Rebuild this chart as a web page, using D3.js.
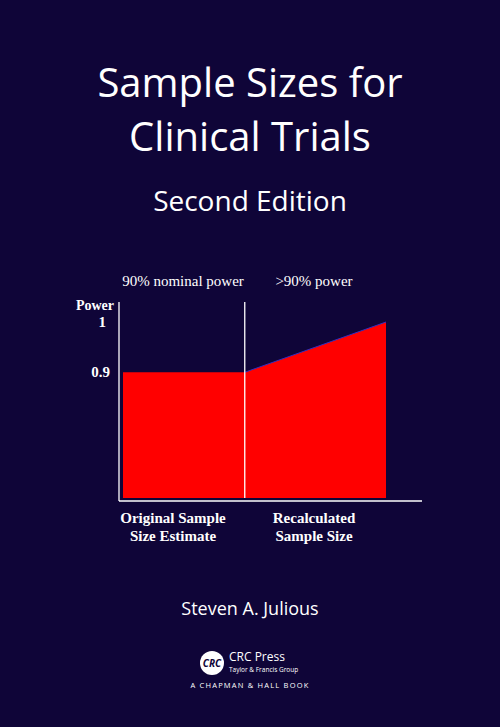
<!DOCTYPE html>
<html><head><meta charset="utf-8">
<script src="https://cdn.jsdelivr.net/npm/d3@7"></script>
<style>body{margin:0;background:#0f0538}</style>
</head><body>
<svg id="c" width="500" height="727"></svg>
<script>
var titleLines = ['Sample Sizes for', 'Clinical Trials']
var subtitle = 'Second Edition'
var author = 'Steven A. Julious'
var sampleSize = [0, 1, 2.16]
var power = [0.9, 0.9, 1.0]
var yTicks = [0.9, 1]
var regionLabels = ['90% nominal power', '>90% power']
var xLabels = [['Original Sample', 'Size Estimate'], ['Recalculated', 'Sample Size']]

var svg = d3.select('#c')
svg.append('rect').attr('width', 500).attr('height', 727).attr('fill', '#0f0538')
var sans = 'Open Sans, Noto Sans, sans-serif'
var serif = 'Liberation Serif, DejaVu Serif, serif'

titleLines.forEach((t, i) => svg.append('text').text(t).attr('x', 250).attr('y', 97 + i*54)
  .attr('text-anchor', 'middle').attr('fill', '#fff').attr('font-family', sans).attr('font-size', 40))
svg.append('text').text(subtitle).attr('x', 250).attr('y', 211).attr('text-anchor', 'middle')
  .attr('fill', '#fff').attr('font-family', sans).attr('font-size', 28)

var x = d3.scaleLinear().domain([0, 2.16]).range([123, 386])
var y = d3.scaleLinear().domain([0.65, 1]).range([498, 322])
var pts = sampleSize.map((d, i) => [d, power[i]])

svg.append('path').datum(pts)
  .attr('d', d3.area().x(d => x(d[0])).y0(y(0.65)).y1(d => y(d[1])))
  .attr('fill', '#ff0000')
svg.append('path').datum(pts.slice(1))
  .attr('d', d3.line().x(d => x(d[0])).y(d => y(d[1])))
  .attr('stroke', '#3030c0').attr('stroke-width', 1).attr('fill', 'none')

// axes
svg.append('line').attr('x1', 119).attr('x2', 119).attr('y1', 302).attr('y2', 501).attr('stroke', '#fff').attr('stroke-width', 1.3)
svg.append('line').attr('x1', 119).attr('x2', 422).attr('y1', 501).attr('y2', 501).attr('stroke', '#fff').attr('stroke-width', 1.3)
svg.append('line').attr('x1', x(1)).attr('x2', x(1)).attr('y1', 302).attr('y2', 498).attr('stroke', '#fff').attr('stroke-width', 1.3)

svg.append('text').text('Power').attr('x', 114).attr('y', 310).attr('text-anchor', 'end')
  .attr('fill', '#fff').attr('font-family', serif).attr('font-weight', 'bold').attr('font-size', 14)
yTicks.forEach(t => svg.append('text').text(t).attr('x', t == 1 ? 106 : 110).attr('y', y(t) + 5)
  .attr('text-anchor', 'end').attr('fill', '#fff').attr('font-family', serif).attr('font-weight', 'bold').attr('font-size', 15))

var regionX = [183, 314]
regionLabels.forEach((t, i) => svg.append('text').text(t).attr('x', regionX[i]).attr('y', 286)
  .attr('text-anchor', 'middle').attr('fill', '#fff').attr('font-family', serif).attr('font-size', 15))

var labX = [173, 314]
xLabels.forEach((ls, i) => ls.forEach((t, j) => svg.append('text').text(t).attr('x', labX[i]).attr('y', 523 + j*18)
  .attr('text-anchor', 'middle').attr('fill', '#fff').attr('font-family', serif).attr('font-weight', 'bold').attr('font-size', 15)))

svg.append('text').text(author).attr('x', 250).attr('y', 615).attr('text-anchor', 'middle')
  .attr('fill', '#fff').attr('font-family', sans).attr('font-size', 18)

// publisher logo
var lg = svg.append('g')
lg.append('circle').attr('cx', 212).attr('cy', 663).attr('r', 12).attr('fill', '#fff')
lg.append('text').text('CRC').attr('x', 212).attr('y', 667).attr('text-anchor', 'middle')
  .attr('fill', '#0f0538').attr('font-family', sans).attr('font-weight', 'bold').attr('font-style', 'italic').attr('font-size', 10)
lg.append('text').text('CRC Press').attr('x', 229).attr('y', 661).attr('fill', '#fff').attr('font-family', sans).attr('font-size', 12)
lg.append('text').text('Taylor & Francis Group').attr('x', 229).attr('y', 672).attr('fill', '#fff').attr('font-family', sans).attr('font-size', 6.5)
lg.append('text').text('A CHAPMAN & HALL BOOK').attr('x', 250).attr('y', 688).attr('text-anchor', 'middle')
  .attr('fill', '#fff').attr('font-family', sans).attr('font-size', 7.5).attr('letter-spacing', 1.2)
</script>
</body></html>
